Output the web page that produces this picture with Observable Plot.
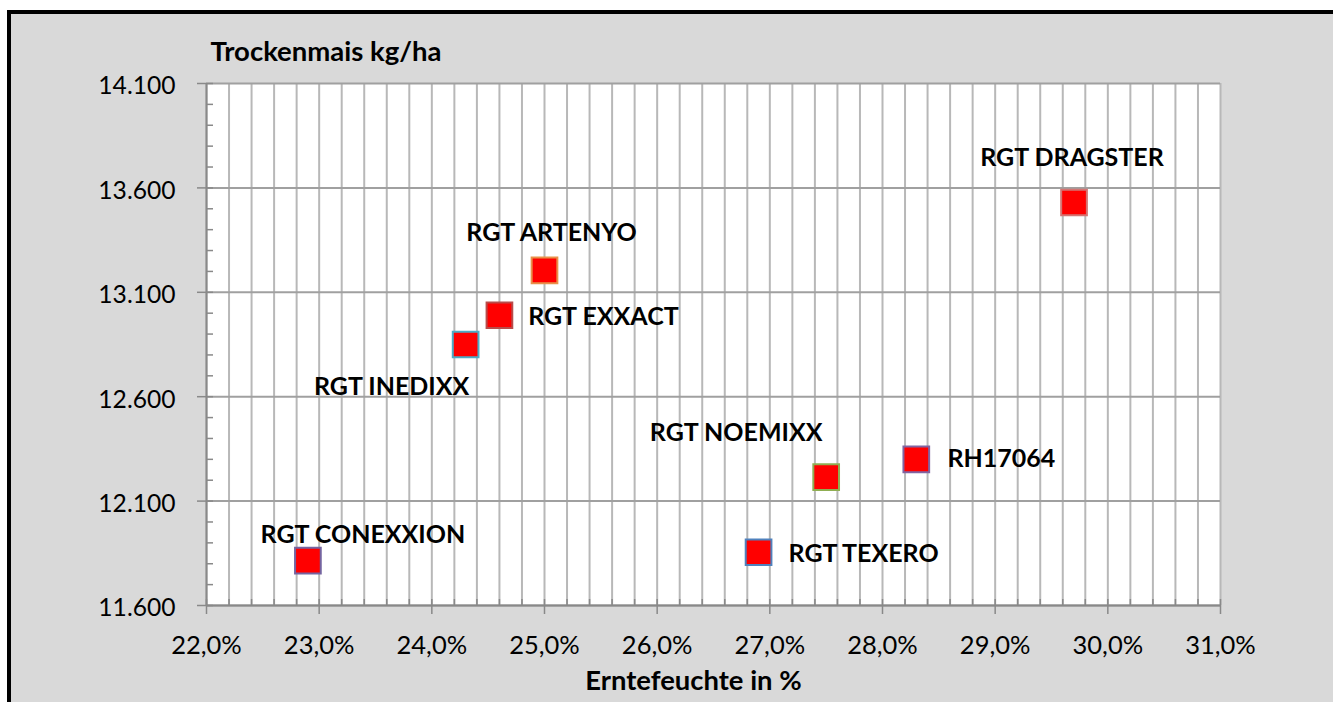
<!DOCTYPE html>
<html><head><meta charset="utf-8">
<script src="https://cdn.jsdelivr.net/npm/d3@7"></script>
<script src="https://cdn.jsdelivr.net/npm/@observablehq/plot@0.6"></script>
<style>
html,body{margin:0;padding:0;background:#fff;}
#panel{position:absolute;left:7px;top:10px;width:1322px;height:688px;border-top:4px solid #000;border-left:4px solid #000;background:#d9d9d9;overflow:hidden;}
</style></head><body><div id="panel"></div>
<script>
// ---- data ----
const varieties = ["RGT CONEXXION","RGT INEDIXX","RGT EXXACT","RGT ARTENYO","RGT TEXERO","RGT NOEMIXX","RH17064","RGT DRAGSTER"];
const moisture  = [22.9, 24.3, 24.6, 25.0, 26.9, 27.5, 28.3, 29.7];   // Erntefeuchte in %
const yieldKg   = [11815, 12850, 12990, 13205, 11855, 12215, 12300, 13530]; // Trockenmais kg/ha
const xTicks = [22, 23, 24, 25, 26, 27, 28, 29, 30, 31];
const yTicks = [11600, 12100, 12600, 13100, 13600, 14100];

// ---- styles (kept apart from data) ----
const markerBorders = ["#7464a0","#4bacc6","#b84c4a","#e8914a","#4f81bd","#8fae52","#8064a2","#d47472"];
const labelOffsets  = [[55,-26],[-74,42],[104,2],[7,-37],[105,2],[-90,-44],[85,0],[-2,-45]];

const de = d3.formatLocale({decimal: ",", thousands: ".", grouping: [3], currency: ["", " €"]});
const fmtY = de.format(",.0f");
const fmtX = d => de.format(".1f")(d) + "%";

const xMinor = d3.range(0, 46).map(i => Math.round((22 + i * 0.2) * 10) / 10);
const yMinor = d3.range(11600, 14101, 100);

const rows = varieties.map((name, i) => ({name, x: moisture[i], y: yieldKg[i], border: markerBorders[i]}));

const W = 1322, H = 688, mL = 195, mR = 113, mT = 69, mB = 97;
const fw = W - mL - mR, fh = H - mT - mB;
const axisGray = "#898989";

const marks = [
  Plot.frame({fill: "white"}),
  Plot.gridX(xMinor, {stroke: "#b8b8b8", strokeOpacity: 1, strokeWidth: 2}),
  Plot.gridY(yTicks, {stroke: "#a0a0a0", strokeOpacity: 1, strokeWidth: 2}),
  Plot.tickX(xMinor, {x: d => d, insetTop: fh - 6, stroke: axisGray, strokeWidth: 1.5}),
  Plot.tickY(yMinor, {y: d => d, insetRight: fw - 7, stroke: axisGray, strokeWidth: 1.5}),
  Plot.ruleX([22], {stroke: axisGray, strokeWidth: 2}),
  Plot.ruleY([11600], {stroke: axisGray, strokeWidth: 2}),
  Plot.axisX(xTicks, {tickSize: 9, tickPadding: 21, tickFormat: fmtX, fontSize: 25.5, stroke: axisGray, strokeWidth: 1.5, label: null}),
  Plot.axisY(yTicks, {tickSize: 9, tickFormat: () => "", stroke: axisGray, strokeWidth: 1.5, label: null}),
  Plot.axisY(yTicks, {tickSize: 0, tickPadding: 31, dy: 3, tickFormat: fmtY, fontSize: 24.6, label: null}),
  Plot.dot(rows, {x: "x", y: "y", symbol: "square", r: 14.5, fill: "#ff0000", stroke: "border", strokeWidth: 2}),
  ...rows.map((r, i) => Plot.text([r], {x: "x", y: "y", text: "name", dx: labelOffsets[i][0], dy: labelOffsets[i][1], fontWeight: "bold", fontSize: 25, fill: "black"})),
  Plot.text(["Trockenmais kg/ha"], {frameAnchor: "top-left", textAnchor: "start", lineAnchor: "middle", dx: 4, dy: -31, fontWeight: "bold", fontSize: 27.5, fill: "black"}),
  Plot.text(["Erntefeuchte in %"], {frameAnchor: "bottom", lineAnchor: "middle", dx: -20, dy: 76, fontWeight: "bold", fontSize: 27.4, fill: "black"})
];

const chart = Plot.plot({
  width: W, height: H,
  marginLeft: mL, marginRight: mR, marginTop: mT, marginBottom: mB,
  style: {fontFamily: "Lato", background: "#d9d9d9", color: "black", overflow: "visible"},
  x: {domain: [22, 31]},
  y: {domain: [11600, 14100]},
  color: {type: "identity"},
  marks
});
document.getElementById("panel").appendChild(chart);
</script></body></html>
